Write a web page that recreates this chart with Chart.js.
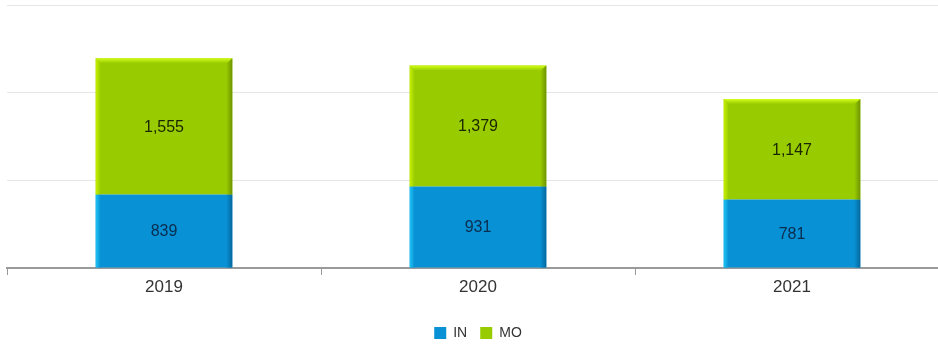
<!DOCTYPE html>
<html>
<head>
<meta charset="utf-8">
<script src="https://cdn.jsdelivr.net/npm/chart.js@4/dist/chart.umd.min.js"></script>
<style>
  html, body { margin: 0; padding: 0; background: #fff; overflow: hidden; }
  #wrap { width: 952px; height: 350px; position: relative; }
</style>
</head>
<body>
<div id="wrap"><canvas id="yearChart"></canvas></div>
<script>
const years = ["2019", "2020", "2021"];
const inValues = [839, 931, 781];
const moValues = [1555, 1379, 1147];
const yTicks = [0, 1000, 2000, 3000];

// bevel colours: [left light, main, right dark, top light]
const bevel = {
  IN: ["#1fc4f5", "#0891d4", "#05689d", "#1fc4f5"],
  MO: ["#c8f000", "#99cc00", "#6f9400", "#d4ff1a"]
};

// draws the 3D-looking edges on each bar segment
const bevelPlugin = {
  id: "bevel",
  afterDatasetsDraw(chart) {
    const ctx = chart.ctx;
    const last = chart.data.datasets.length - 1;
    chart.data.datasets.forEach((ds, di) => {
      const c = bevel[ds.label];
      chart.getDatasetMeta(di).data.forEach(bar => {
        const l = bar.x - bar.width / 2, r = bar.x + bar.width / 2;
        const t = Math.min(bar.y, bar.base), b = Math.max(bar.y, bar.base);
        const s = 5;
        const topCap = di === last;
        ctx.save();
        // left
        let g = ctx.createLinearGradient(l, 0, l + s, 0);
        g.addColorStop(0, c[0]); g.addColorStop(1, c[1]);
        ctx.fillStyle = g;
        ctx.beginPath();
        ctx.moveTo(l, t); ctx.lineTo(l + s, topCap ? t + s : t);
        ctx.lineTo(l + s, b); ctx.lineTo(l, b); ctx.closePath(); ctx.fill();
        // right
        g = ctx.createLinearGradient(r - s - 1, 0, r, 0);
        g.addColorStop(0, c[1]); g.addColorStop(1, c[2]);
        ctx.fillStyle = g;
        ctx.beginPath();
        ctx.moveTo(r, t); ctx.lineTo(r - s - 1, topCap ? t + s : t);
        ctx.lineTo(r - s - 1, b); ctx.lineTo(r, b); ctx.closePath(); ctx.fill();
        // top
        if (topCap) {
          g = ctx.createLinearGradient(0, t, 0, t + s);
          g.addColorStop(0, c[3]); g.addColorStop(1, c[1]);
          ctx.fillStyle = g;
          ctx.beginPath();
          ctx.moveTo(l, t); ctx.lineTo(r, t);
          ctx.lineTo(r - s - 1, t + s); ctx.lineTo(l + s, t + s);
          ctx.closePath(); ctx.fill();
        }
        ctx.restore();
      });
    });
  }
};

// value text in the middle of each segment
const valueLabels = {
  id: "valueLabels",
  afterDatasetsDraw(chart) {
    const ctx = chart.ctx;
    ctx.save();
    ctx.font = "16px 'Liberation Sans', Arial, sans-serif";
    ctx.textAlign = "center";
    ctx.textBaseline = "middle";
    chart.data.datasets.forEach((ds, di) => {
      ctx.fillStyle = ds.label === "IN" ? "#0b2c4e" : "#1a2600";
      chart.getDatasetMeta(di).data.forEach((bar, i) => {
        ctx.fillText(ds.data[i].toLocaleString("en-US"), bar.x, (bar.y + bar.base) / 2 + 1);
      });
    });
    ctx.restore();
  }
};

new Chart(document.getElementById("yearChart"), {
  type: "bar",
  data: {
    labels: years,
    datasets: [
      { label: "IN", data: inValues, backgroundColor: bevel.IN[1], borderWidth: 0 },
      { label: "MO", data: moValues, backgroundColor: bevel.MO[1], borderWidth: 0 }
    ]
  },
  options: {
    responsive: true,
    maintainAspectRatio: false,
    animation: false,
    categoryPercentage: 1,
    barPercentage: 0.435,
    layout: { padding: { left: 7, right: 3, top: 5, bottom: 0 } },
    plugins: {
      tooltip: { enabled: false },
      legend: {
        position: "bottom",
        labels: {
          boxWidth: 12, boxHeight: 12, padding: 13,
          color: "#333",
          font: { family: "'Liberation Sans', Arial, sans-serif", size: 14 }
        }
      }
    },
    scales: {
      x: {
        stacked: true,
        grid: { drawOnChartArea: false, offset: true, tickLength: 7, color: "#999", lineWidth: 1 },
        border: { color: "#9a9a9a", width: 2 },
        ticks: {
          color: "#333", padding: 2,
          font: { family: "'Liberation Sans', Arial, sans-serif", size: 17 }
        },
        afterFit(scale) { scale.height = 45; }
      },
      y: {
        stacked: true,
        min: yTicks[0],
        max: yTicks[yTicks.length - 1],
        afterBuildTicks(scale) { scale.ticks = yTicks.map(v => ({ value: v })); },
        ticks: { display: false },
        grid: { color: "#e6e6e6", drawTicks: false },
        border: { display: false },
        afterFit(scale) { scale.width = 0; }
      }
    }
  },
  plugins: [bevelPlugin, valueLabels]
});
</script>
</body>
</html>
